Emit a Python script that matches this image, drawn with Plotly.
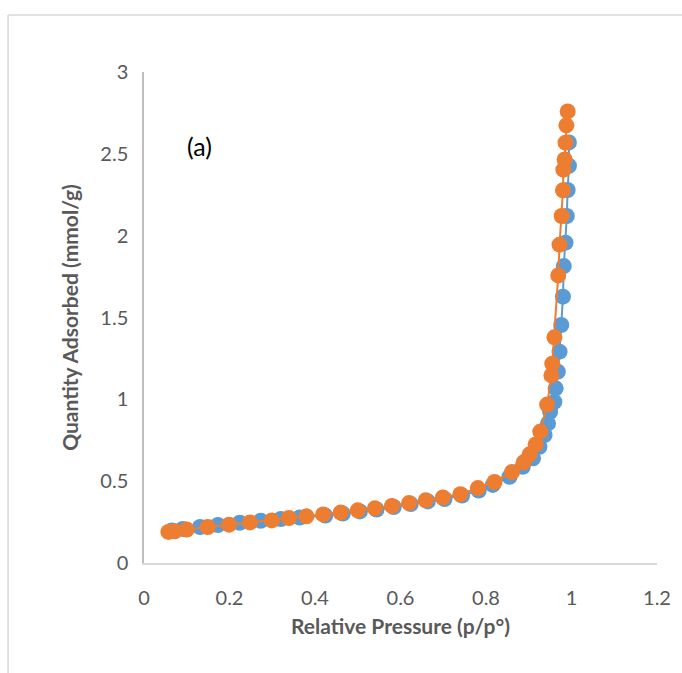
import plotly.graph_objects as go

# Adsorption branch (blue)
ads_x = [0.065, 0.091, 0.131, 0.173, 0.224, 0.273, 0.320, 0.364, 0.424, 0.465, 0.505, 0.544,
         0.584, 0.624, 0.664, 0.703, 0.744, 0.783, 0.816, 0.855, 0.886, 0.910, 0.925, 0.937,
         0.945, 0.950, 0.960, 0.963, 0.968, 0.972, 0.976, 0.980, 0.982, 0.986, 0.989, 0.991,
         0.994, 0.994]
ads_y = [0.199, 0.208, 0.220, 0.232, 0.246, 0.258, 0.269, 0.278, 0.290, 0.302, 0.315, 0.327,
         0.342, 0.360, 0.376, 0.391, 0.412, 0.443, 0.477, 0.527, 0.588, 0.640, 0.710, 0.782,
         0.853, 0.924, 0.985, 1.067, 1.169, 1.291, 1.454, 1.627, 1.814, 1.957, 2.120, 2.279,
         2.427, 2.570]

# Desorption branch (orange)
des_x = [0.057, 0.072, 0.100, 0.149, 0.199, 0.248, 0.299, 0.339, 0.380, 0.419, 0.460, 0.500,
         0.540, 0.580, 0.620, 0.659, 0.699, 0.740, 0.781, 0.820, 0.861, 0.888, 0.902, 0.916,
         0.927, 0.943, 0.953, 0.955, 0.960, 0.969, 0.972, 0.977, 0.980, 0.981, 0.984, 0.986,
         0.988, 0.991]
des_y = [0.190, 0.194, 0.204, 0.220, 0.234, 0.248, 0.260, 0.275, 0.285, 0.297, 0.308, 0.322,
         0.334, 0.349, 0.366, 0.383, 0.400, 0.420, 0.458, 0.495, 0.556, 0.615, 0.664, 0.724,
         0.803, 0.968, 1.146, 1.218, 1.379, 1.757, 1.945, 2.120, 2.277, 2.403, 2.466, 2.568,
         2.674, 2.759]

x_ticks = [0, 0.2, 0.4, 0.6, 0.8, 1, 1.2]
x_tick_text = ["0", "0.2", "0.4", "0.6", "0.8", "1", "1.2"]
y_ticks = [0, 0.5, 1, 1.5, 2, 2.5, 3]
y_tick_text = ["0", "0.5", "1", "1.5", "2", "2.5", "3"]

FONT = "Lato, 'Open Sans', sans-serif"
GRAY = "#595959"

fig = go.Figure()
fig.add_trace(go.Scatter(
    x=ads_x, y=ads_y, mode="lines+markers",
    line=dict(color="#5B9BD5", width=2),
    marker=dict(color="#5B9BD5", size=16),
    showlegend=False,
))
fig.add_trace(go.Scatter(
    x=des_x, y=des_y, mode="lines+markers",
    line=dict(color="#ED7D31", width=2),
    marker=dict(color="#ED7D31", size=16),
    showlegend=False,
))

fig.add_annotation(x=0.095, y=2.55, xref="x", yref="y", text="(a)", showarrow=False,
                   xanchor="left", font=dict(family=FONT, size=25, color="#000000"))

# outer chart border (top and left edges visible)
fig.add_shape(type="line", xref="paper", yref="paper", x0=-0.265, x1=1.1, y0=1.116, y1=1.116,
              line=dict(color="#D9D9D9", width=1.5))
fig.add_shape(type="line", xref="paper", yref="paper", x0=-0.265, x1=-0.265, y0=1.116, y1=-0.3,
              line=dict(color="#D9D9D9", width=1.5))

fig.update_layout(
    width=682, height=673,
    margin=dict(l=144, r=25, t=72, b=110),
    paper_bgcolor="white", plot_bgcolor="white",
    font=dict(family=FONT, size=20, color=GRAY),
)
fig.update_xaxes(
    range=[0, 1.2], tickvals=x_ticks, ticktext=x_tick_text, showgrid=False, zeroline=False,
    showline=True, linecolor="#D9D9D9", linewidth=1.5, ticks="", ticklabelstandoff=16,
    tickfont=dict(family=FONT, size=20, color=GRAY),
    title=dict(text="<b>Relative Pressure (p/p°)</b>", standoff=12,
               font=dict(family=FONT, size=21, color=GRAY)),
)
fig.update_yaxes(
    range=[0, 3], tickvals=y_ticks, ticktext=y_tick_text, showgrid=False, zeroline=False,
    showline=True, linecolor="#BFBFBF", linewidth=1.5, ticks="", ticklabelstandoff=10,
    tickfont=dict(family=FONT, size=20, color=GRAY),
    title=dict(text="<b>Quantity Adsorbed (mmol/g)</b>", standoff=16,
               font=dict(family=FONT, size=21, color=GRAY)),
)

fig.write_html("out.html")
